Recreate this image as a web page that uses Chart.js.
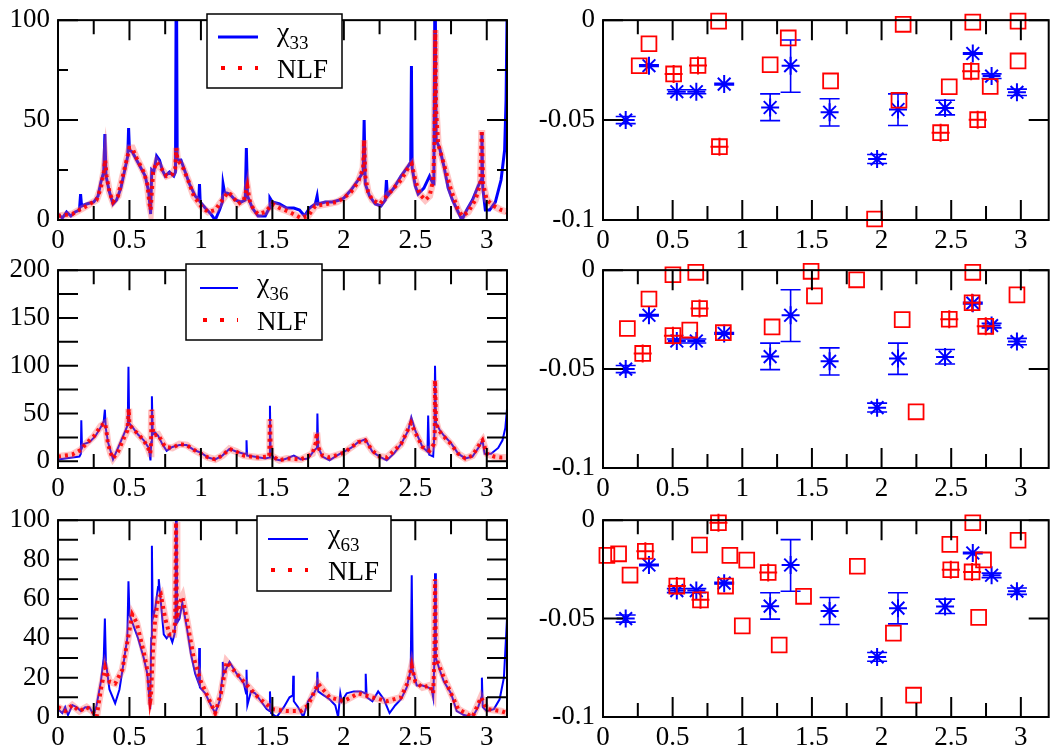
<!DOCTYPE html>
<html>
<head>
<meta charset="utf-8">
<script src="https://cdn.jsdelivr.net/npm/chart.js@4.4.1/dist/chart.umd.min.js"></script>
<style>
  html, body { margin: 0; padding: 0; background: #fff; overflow: hidden; }
  body { width: 1058px; height: 753px; position: relative; }
  canvas { position: absolute; }
</style>
</head>
<body>
<canvas id="spec33" width="513" height="250" style="left:0;top:0"></canvas>
<canvas id="spec36" width="513" height="250" style="left:0;top:250px"></canvas>
<canvas id="spec63" width="513" height="253" style="left:0;top:500px"></canvas>
<canvas id="fit33" width="531" height="250" style="left:530px;top:0"></canvas>
<canvas id="fit36" width="531" height="250" style="left:530px;top:250px"></canvas>
<canvas id="fit63" width="531" height="253" style="left:530px;top:500px"></canvas>
<script>
// spectra, [omega, value]
const chi33 = [
  [0,3],[0.03,1],[0.06,4],[0.09,2],[0.12,4],[0.15,5],[0.158,13],[0.165,7],[0.2,8],[0.25,9],
  [0.28,12],[0.3,19],[0.32,24],[0.328,43],[0.336,22],[0.36,14],[0.385,8],[0.41,10],[0.44,16],[0.47,26],
  [0.488,32],[0.494,46],[0.5,35],[0.52,34],[0.55,30],[0.58,26],[0.61,22],[0.635,14],[0.648,3],[0.656,25],
  [0.67,24],[0.69,32],[0.71,30],[0.73,25],[0.75,22],[0.78,24],[0.81,22],[0.822,24],[0.828,140],[0.834,30],
  [0.86,30],[0.89,24],[0.92,18],[0.96,12],[0.985,10],[0.99,18],[0.995,9],[1.03,6],[1.07,3],[1.1,0],
  [1.13,5],[1.15,9],[1.155,18],[1.165,14],[1.2,13],[1.24,10],[1.28,9],[1.31,10],[1.318,36],[1.326,12],
  [1.36,6],[1.4,2],[1.45,2],[1.478,6],[1.483,11],[1.5,9],[1.55,8],[1.6,6],[1.65,6],[1.69,5],
  [1.725,2],[1.76,6],[1.8,8],[1.813,12],[1.82,8],[1.87,9],[1.92,9],[1.97,10],[2.0,11],[2.05,15],
  [2.1,20],[2.135,24],[2.142,50],[2.15,18],[2.18,12],[2.22,8],[2.26,7],[2.29,10],[2.298,20],[2.305,12],
  [2.35,16],[2.4,22],[2.45,27],[2.468,29],[2.473,77],[2.478,26],[2.5,17],[2.52,13],[2.56,16],[2.6,22],
  [2.625,18],[2.63,22],[2.638,130],[2.646,40],[2.67,36],[2.7,27],[2.73,16],[2.76,10],[2.8,4],[2.826,0],
  [2.86,5],[2.9,10],[2.94,17],[2.96,20],[2.966,44],[2.972,16],[2.99,5],[3.02,5],[3.06,9],[3.1,20],
  [3.125,35],[3.135,60],[3.1416,100]
];
const nlf33 = [
  [0,2],[0.1,3],[0.2,7],[0.27,10],[0.3,16],[0.32,24],[0.33,30],[0.34,22],[0.36,14],[0.385,9],
  [0.42,12],[0.46,24],[0.5,36],[0.52,36],[0.55,31],[0.6,24],[0.625,18],[0.64,8],[0.648,5],[0.655,12],
  [0.665,24],[0.69,29],[0.72,26],[0.76,22],[0.8,23],[0.82,26],[0.828,36],[0.836,30],[0.87,27],[0.91,20],
  [0.95,12],[1.0,7],[1.05,4],[1.1,5],[1.15,10],[1.19,14],[1.22,12],[1.26,8],[1.3,10],[1.325,17],
  [1.34,10],[1.37,5],[1.4,3],[1.45,4],[1.5,8],[1.55,6],[1.62,4],[1.7,1],[1.75,2],[1.8,7],
  [1.88,8],[1.95,9],[2.0,11],[2.05,14],[2.1,19],[2.135,26],[2.142,40],[2.15,22],[2.17,14],[2.2,10],
  [2.25,8],[2.3,12],[2.35,16],[2.4,20],[2.45,26],[2.475,28],[2.5,20],[2.53,13],[2.57,10],[2.6,12],
  [2.625,20],[2.635,40],[2.64,95],[2.645,56],[2.66,38],[2.7,28],[2.75,15],[2.8,5],[2.83,2],[2.87,4],
  [2.92,10],[2.955,18],[2.965,45],[2.975,18],[3.0,10],[3.05,7],[3.1,5],[3.14,4]
];
const chi36 = [
  [0,2],[0.05,3],[0.1,4],[0.15,5],[0.16,8],[0.163,43],[0.168,14],[0.18,18],[0.22,20],[0.26,26],
  [0.3,36],[0.32,42],[0.328,54],[0.334,35],[0.35,20],[0.385,2],[0.42,14],[0.46,28],[0.488,38],[0.493,99],
  [0.498,40],[0.52,36],[0.56,28],[0.6,22],[0.635,14],[0.647,1],[0.652,20],[0.657,68],[0.663,28],[0.68,30],
  [0.7,27],[0.73,18],[0.76,11],[0.8,15],[0.85,17],[0.9,17],[0.95,12],[1.0,9],[1.05,4],[1.1,2],
  [1.15,6],[1.2,13],[1.25,10],[1.3,8],[1.316,8],[1.319,22],[1.323,6],[1.37,5],[1.45,3],[1.478,4],
  [1.483,58],[1.488,8],[1.52,2],[1.56,1],[1.6,3],[1.65,6],[1.7,2],[1.75,3],[1.795,12],[1.812,14],
  [1.815,50],[1.82,15],[1.85,5],[1.9,1],[1.95,6],[2.0,10],[2.05,14],[2.1,20],[2.15,23],[2.2,10],
  [2.25,5],[2.3,1],[2.35,8],[2.4,18],[2.45,32],[2.472,46],[2.5,32],[2.55,15],[2.585,10],[2.59,48],
  [2.597,7],[2.625,5],[2.634,30],[2.638,100],[2.645,40],[2.67,33],[2.7,27],[2.75,19],[2.8,8],[2.85,3],
  [2.9,5],[2.95,16],[2.97,22],[2.985,8],[3.03,8],[3.08,14],[3.11,22],[3.13,35],[3.1416,55]
];
const nlf36 = [
  [0,5],[0.1,7],[0.16,12],[0.2,19],[0.25,26],[0.3,37],[0.33,40],[0.34,30],[0.35,18],[0.37,8],
  [0.385,3],[0.42,10],[0.46,24],[0.485,32],[0.49,42],[0.495,55],[0.5,38],[0.55,30],[0.6,22],[0.63,14],
  [0.645,8],[0.65,14],[0.655,54],[0.66,38],[0.67,27],[0.7,28],[0.75,15],[0.8,14],[0.85,18],[0.9,17],
  [0.95,12],[1.0,8],[1.05,4],[1.1,2],[1.15,6],[1.2,13],[1.25,10],[1.3,6],[1.4,4],[1.478,5],
  [1.483,44],[1.49,6],[1.55,1],[1.6,3],[1.7,2],[1.78,8],[1.805,20],[1.81,30],[1.82,15],[1.85,6],
  [1.9,4],[2.0,9],[2.1,20],[2.15,22],[2.2,11],[2.25,5],[2.3,4],[2.4,18],[2.47,40],[2.5,30],
  [2.55,15],[2.6,11],[2.63,18],[2.636,25],[2.638,85],[2.645,42],[2.66,33],[2.7,26],[2.75,18],[2.8,8],
  [2.85,3],[2.9,6],[2.95,18],[2.97,22],[3.0,8],[3.05,5],[3.1,4],[3.14,4]
];
const chi63 = [
  [0,4],[0.03,2],[0.05,5],[0.07,1],[0.1,6],[0.13,5],[0.16,3],[0.19,5],[0.22,5],[0.25,1],
  [0.27,6],[0.3,18],[0.32,30],[0.328,50],[0.335,28],[0.36,14],[0.4,7],[0.43,14],[0.46,28],[0.485,40],
  [0.493,69],[0.5,52],[0.53,46],[0.56,40],[0.6,30],[0.625,22],[0.645,4],[0.652,40],[0.657,87],[0.663,50],
  [0.68,55],[0.7,66],[0.705,70],[0.72,58],[0.74,42],[0.76,40],[0.78,42],[0.8,38],[0.815,42],[0.822,50],
  [0.828,140],[0.834,48],[0.85,50],[0.87,58],[0.9,46],[0.93,32],[0.96,22],[0.985,17],[0.988,35],[0.993,15],
  [1.03,12],[1.07,6],[1.1,2],[1.13,8],[1.15,20],[1.153,28],[1.16,22],[1.2,28],[1.25,22],[1.3,17],
  [1.316,12],[1.319,24],[1.325,6],[1.35,13],[1.38,12],[1.42,8],[1.46,4],[1.48,3],[1.483,13],[1.49,2],
  [1.53,0],[1.58,5],[1.62,10],[1.643,11],[1.646,21],[1.65,8],[1.68,5],[1.716,0],[1.75,8],[1.79,12],
  [1.812,15],[1.815,23],[1.82,13],[1.86,11],[1.9,9],[1.94,6],[1.96,0],[1.975,12],[1.985,8],[2.02,12],
  [2.07,13],[2.12,13],[2.15,12],[2.153,22],[2.16,10],[2.2,8],[2.24,13],[2.28,9],[2.32,2],[2.36,6],
  [2.4,9],[2.44,15],[2.468,24],[2.475,72],[2.482,24],[2.51,16],[2.55,16],[2.59,15],[2.615,14],[2.625,10],
  [2.634,30],[2.638,73],[2.644,30],[2.67,24],[2.7,18],[2.75,12],[2.79,3],[2.84,1],[2.9,0],[2.94,5],
  [2.963,10],[2.966,20],[2.972,5],[3.0,3],[3.05,4],[3.09,9],[3.12,20],[3.1416,50]
];
const nlf63 = [
  [0,5],[0.05,3],[0.1,6],[0.15,3],[0.2,5],[0.24,3],[0.27,0],[0.3,14],[0.33,25],[0.36,18],
  [0.4,17],[0.45,24],[0.49,40],[0.52,52],[0.55,48],[0.6,33],[0.63,22],[0.645,8],[0.65,10],[0.665,35],
  [0.68,50],[0.7,60],[0.72,62],[0.75,50],[0.78,42],[0.81,42],[0.82,49],[0.826,99],[0.832,50],[0.85,58],
  [0.87,61],[0.9,50],[0.95,30],[1.0,18],[1.05,10],[1.1,2],[1.14,12],[1.18,28],[1.25,22],[1.3,18],
  [1.4,10],[1.5,4],[1.6,3],[1.7,3],[1.75,6],[1.82,17],[1.9,10],[2.0,8],[2.1,12],[2.2,10],
  [2.3,8],[2.4,10],[2.45,18],[2.475,26],[2.5,18],[2.55,15],[2.6,16],[2.625,12],[2.634,30],[2.638,70],
  [2.645,30],[2.7,20],[2.75,12],[2.8,4],[2.9,0],[2.96,10],[3.0,4],[3.1,3],[3.14,2]
];

// fitted residues, blue: [omega, value, lower, upper]
const fitBlue = [
  [0.163,-0.050,-0.0518,-0.0482],[0.33,-0.0228,-0.0232,-0.0224],[0.53,-0.0358,-0.0368,-0.0348],
  [0.67,-0.0358,-0.0368,-0.0348],[0.87,-0.032,-0.0324,-0.0316],[1.20,-0.0437,-0.0503,-0.0369],
  [1.347,-0.0228,-0.0361,-0.0099],[1.627,-0.0461,-0.053,-0.0393],[1.968,-0.0695,-0.0717,-0.0672],
  [2.118,-0.0447,-0.0527,-0.0369],[2.456,-0.0439,-0.0474,-0.0401],[2.655,-0.0167,-0.0171,-0.0163],
  [2.79,-0.028,-0.0292,-0.0269],[2.972,-0.0361,-0.0377,-0.0345]
];
// red squares and crossed squares, [omega, value]
const sq33 = [
  [0.26,-0.0228],[0.33,-0.0118],[0.83,-0.0005],[1.20,-0.0223],[1.33,-0.0089],[1.634,-0.0304],
  [1.95,-0.0995],[2.155,-0.0021],[2.125,-0.0401],[2.486,-0.0333],[2.655,-0.001],[2.78,-0.0332],
  [2.98,-0.0005],[2.98,-0.0204]
];
const plus33 = [[0.507,-0.0269],[0.682,-0.0227],[0.836,-0.0633],[2.424,-0.0563],[2.643,-0.0256],[2.69,-0.0498]];
const sq36 = [
  [0.175,-0.0295],[0.33,-0.0146],[0.502,-0.0023],[0.666,-0.0011],[0.623,-0.0303],[0.864,-0.0316],
  [1.214,-0.0287],[1.494,-0.0006],[1.518,-0.013],[1.821,-0.0049],[2.148,-0.025],[2.248,-0.0716],
  [2.655,-0.0011],[2.972,-0.0125]
];
const plus36 = [[0.285,-0.0421],[0.502,-0.0331],[0.693,-0.0194],[2.486,-0.0248],[2.65,-0.0165],[2.748,-0.0284]];
const sq63 = [
  [0.028,-0.0179],[0.112,-0.0171],[0.194,-0.0279],[0.693,-0.0126],[0.911,-0.0179],[0.88,-0.0335],
  [1.032,-0.0203],[1.0,-0.0537],[1.265,-0.0634],[1.44,-0.0387],[1.826,-0.0234],[2.085,-0.0574],
  [2.23,-0.0889],[2.49,-0.0123],[2.655,-0.0013],[2.732,-0.0202],[2.697,-0.0494],[2.98,-0.0102]
];
const plus63 = [[0.304,-0.0158],[0.53,-0.0335],[0.70,-0.0405],[0.829,-0.0013],[1.186,-0.0266],[2.497,-0.0252],[2.65,-0.0263]];

// tick labels
const omegaTicks = [0, 0.5, 1, 1.5, 2, 2.5, 3];
const ticks33 = [0, 50, 100];
const ticks36 = [0, 50, 100, 150, 200];
const ticks63 = [0, 20, 40, 60, 80, 100];
const fitTicks = [-0.1, -0.05, 0];

const BLUE = '#0000ff';
const RED = '#ff0000';

// pick the first serif face that really renders (falls back to generic serif)
function pickSerif() {
    const c = document.createElement('canvas').getContext('2d');
    const probe = 'NLF 0.5 -0.05 \u03c7 100 mmwwiill';
    const widthOf = f => { c.font = '40px ' + f; return c.measureText(probe).width; };
    const mono = widthOf('monospace'), sans = widthOf('sans-serif');
    const names = ['Liberation Serif', 'DejaVu Serif', 'Tinos', 'Times New Roman', 'Noto Serif', 'FreeSerif', 'Nimbus Roman', 'Times'];
    for (const n of names) {
        const wm = widthOf(`"${n}", monospace`), ws = widthOf(`"${n}", sans-serif`);
        if (Math.abs(wm - mono) > 0.5 && Math.abs(ws - sans) > 0.5) return `"${n}", serif`;
        if (Math.abs(wm - ws) < 0.01 && Math.abs(wm - mono) > 0.5) return `"${n}", serif`;
    }
    return 'serif';
}
const SERIF = pickSerif();

const pts = rows => rows.map(r => ({ x: r[0], y: r[1] }));
const fmt = v => String(Math.round(v * 1000) / 1000);

// frame plus inward ticks on all four sides
function frameTicks(xStep, yStep, yMinorLen) {
    return {
        id: 'frameTicks',
        afterDraw(chart) {
            const { ctx, chartArea: a, scales: { x, y } } = chart;
            const isMajor = (s, v) => s.ticks.some(t => Math.abs(t.value - v) < 1e-9);
            ctx.save();
            ctx.strokeStyle = '#000';
            ctx.lineWidth = 2;
            ctx.strokeRect(a.left, a.top, a.right - a.left, a.bottom - a.top);
            ctx.beginPath();
            let n0 = Math.ceil(x.min / xStep - 1e-9), n1 = Math.floor(x.max / xStep + 1e-9);
            for (let n = n0; n <= n1; n++) {
                const v = n * xStep, px = x.getPixelForValue(v);
                const len = isMajor(x, v) ? 20 : 14;
                ctx.moveTo(px, a.top); ctx.lineTo(px, a.top + len);
                ctx.moveTo(px, a.bottom); ctx.lineTo(px, a.bottom - len);
            }
            n0 = Math.ceil(y.min / yStep - 1e-9); n1 = Math.floor(y.max / yStep + 1e-9);
            for (let n = n0; n <= n1; n++) {
                const v = n * yStep, py = y.getPixelForValue(v);
                const len = isMajor(y, v) ? 20 : yMinorLen;
                ctx.moveTo(a.left, py); ctx.lineTo(a.left + len, py);
                ctx.moveTo(a.right, py); ctx.lineTo(a.right - len, py);
            }
            ctx.stroke();
            ctx.restore();
        }
    };
}

// legend box: chi with subscript, NLF
function chiLegend(box, sub, lineW) {
    return {
        id: 'chiLegend',
        afterDraw(chart) {
            const ctx = chart.ctx;
            const { x, y, w, h, lx0, lx1, tx, r1, r2 } = box;
            ctx.save();
            ctx.fillStyle = '#fff';
            ctx.fillRect(x, y, w, h);
            ctx.strokeStyle = '#000';
            ctx.lineWidth = 1.5;
            ctx.strokeRect(x, y, w, h);

            ctx.strokeStyle = BLUE;
            ctx.lineWidth = lineW;
            ctx.beginPath(); ctx.moveTo(lx0, r1); ctx.lineTo(lx1, r1); ctx.stroke();

            ctx.strokeStyle = RED;
            ctx.lineWidth = 4;
            ctx.setLineDash([4, 13]);
            ctx.beginPath(); ctx.moveTo(lx0 + 3, r2); ctx.lineTo(lx1, r2); ctx.stroke();
            ctx.setLineDash([]);

            ctx.fillStyle = '#000';
            ctx.textBaseline = 'alphabetic';
            ctx.font = `28px ${SERIF}`;
            ctx.fillText('\u03c7', tx, r1 + 4);
            const cw = ctx.measureText('\u03c7').width;
            ctx.font = `19px ${SERIF}`;
            ctx.fillText(sub, tx + cw, r1 + 12);
            ctx.font = `27px ${SERIF}`;
            ctx.fillText('NLF', tx, r2 + 10);
            ctx.restore();
        }
    };
}

function errorBars(rows) {
    return {
        id: 'errorBars',
        beforeDatasetsDraw(chart) {
            const { ctx, scales: { x, y } } = chart;
            ctx.save();
            ctx.strokeStyle = BLUE;
            ctx.lineWidth = 1.6;
            ctx.beginPath();
            rows.forEach(r => {
                const px = x.getPixelForValue(r[0]);
                const lo = y.getPixelForValue(r[2]), hi = y.getPixelForValue(r[3]);
                ctx.moveTo(px, lo); ctx.lineTo(px, hi);
                ctx.moveTo(px - 10, lo); ctx.lineTo(px + 10, lo);
                ctx.moveTo(px - 10, hi); ctx.lineTo(px + 10, hi);
            });
            ctx.stroke();
            ctx.restore();
        }
    };
}

function axes(xMax, yMin, yMax, yTicks, yWidth, xHeight) {
    const font = { family: SERIF, size: 27, lineHeight: 0.9 };
    return {
        x: {
            type: 'linear', min: 0, max: xMax,
            grid: { display: false, drawTicks: false }, border: { display: false },
            ticks: { font, color: '#000', padding: 9, maxRotation: 0, callback: fmt },
            afterBuildTicks: s => { s.ticks = omegaTicks.map(v => ({ value: v })); },
            afterFit: s => { s.height = xHeight; }
        },
        y: {
            type: 'linear', min: yMin, max: yMax,
            grid: { display: false, drawTicks: false }, border: { display: false },
            ticks: { font, color: '#000', padding: 8, callback: fmt },
            afterBuildTicks: s => { s.ticks = yTicks.map(v => ({ value: v })); },
            afterFit: s => { s.width = yWidth; }
        }
    };
}

class PanelCharts {
    constructor() {
        this.charts = new Map();
    }

    initialize() {
        this.initializeSpectrum('spec33', chi33, nlf33, 0, 100, ticks33, 25, 10, 14, 30, 3,
            { x: 207, y: 14, w: 135, h: 74, lx0: 218, lx1: 258, tx: 277, r1: 37, r2: 68 }, '33');
        this.initializeSpectrum('spec36', chi36, nlf36, -7, 200, ticks36, 25, 20, 13, 32, 2,
            { x: 186, y: 14, w: 136, h: 76, lx0: 200, lx1: 238, tx: 257, r1: 38, r2: 70 }, '36');
        this.initializeSpectrum('spec63', chi63, nlf63, 0, 100, ticks63, 10, 20, 13, 36, 2,
            { x: 257, y: 16, w: 134, h: 75, lx0: 268, lx1: 308, tx: 328, r1: 39, r2: 70 }, '63');
        this.initializeFit('fit33', sq33, plus33, 14, 30);
        this.initializeFit('fit36', sq36, plus36, 13, 32);
        this.initializeFit('fit63', sq63, plus63, 11, 36);
    }

    initializeSpectrum(id, chi, nlf, yMin, yMax, yTicks, yStep, yMinorLen, padTop, xHeight, blueW, box, sub) {
        const ctx = document.getElementById(id);
        if (!ctx) return;

        const chart = new Chart(ctx, {
            type: 'line',
            data: {
                datasets: [
                    {
                        label: 'NLF',
                        data: pts(nlf),
                        borderColor: 'rgba(255,0,0,0.9)',
                        borderWidth: 4,
                        borderDash: [3, 4],
                        pointRadius: 0,
                        order: 0
                    },
                    {
                        label: 'NLF band',
                        data: pts(nlf),
                        borderColor: 'rgba(255,90,90,0.35)',
                        borderWidth: 7,
                        pointRadius: 0,
                        order: 1
                    },
                    {
                        label: 'chi' + sub,
                        data: pts(chi),
                        borderColor: BLUE,
                        borderWidth: blueW,
                        pointRadius: 0,
                        order: 2
                    }
                ]
            },
            options: {
                responsive: false,
                animation: false,
                devicePixelRatio: 1,
                events: [],
                layout: { padding: { top: padTop, right: 6, left: 0, bottom: 0 } },
                plugins: { legend: { display: false }, tooltip: { enabled: false } },
                scales: axes(Math.PI, yMin, yMax, yTicks, 58, xHeight)
            },
            plugins: [frameTicks(0.25, yStep, yMinorLen), chiLegend(box, sub, blueW)]
        });

        this.charts.set(id, chart);
    }

    initializeFit(id, squares, crossed, padTop, xHeight) {
        const ctx = document.getElementById(id);
        if (!ctx) return;

        const chart = new Chart(ctx, {
            type: 'scatter',
            data: {
                datasets: [
                    {
                        data: pts(crossed),
                        pointStyle: 'cross',
                        pointRadius: 9,
                        borderColor: RED,
                        borderWidth: 2,
                        clip: false,
                        order: 0
                    },
                    {
                        data: pts(squares.concat(crossed)),
                        pointStyle: 'rect',
                        pointRadius: 10.5,
                        borderColor: RED,
                        backgroundColor: 'rgba(0,0,0,0)',
                        borderWidth: 1.8,
                        clip: false,
                        order: 1
                    },
                    {
                        data: pts(fitBlue),
                        pointStyle: 'star',
                        pointRadius: 9,
                        borderColor: BLUE,
                        borderWidth: 2,
                        clip: false,
                        order: 2
                    }
                ]
            },
            options: {
                responsive: false,
                animation: false,
                devicePixelRatio: 1,
                events: [],
                layout: { padding: { top: padTop, right: 0, left: 0, bottom: 0 } },
                plugins: { legend: { display: false }, tooltip: { enabled: false } },
                scales: axes(3.2, -0.1, 0, fitTicks, 73, xHeight)
            },
            plugins: [frameTicks(0.25, 0.05, 20), errorBars(fitBlue)]
        });

        this.charts.set(id, chart);
    }
}

const panelCharts = new PanelCharts();
panelCharts.initialize();
</script>
</body>
</html>
